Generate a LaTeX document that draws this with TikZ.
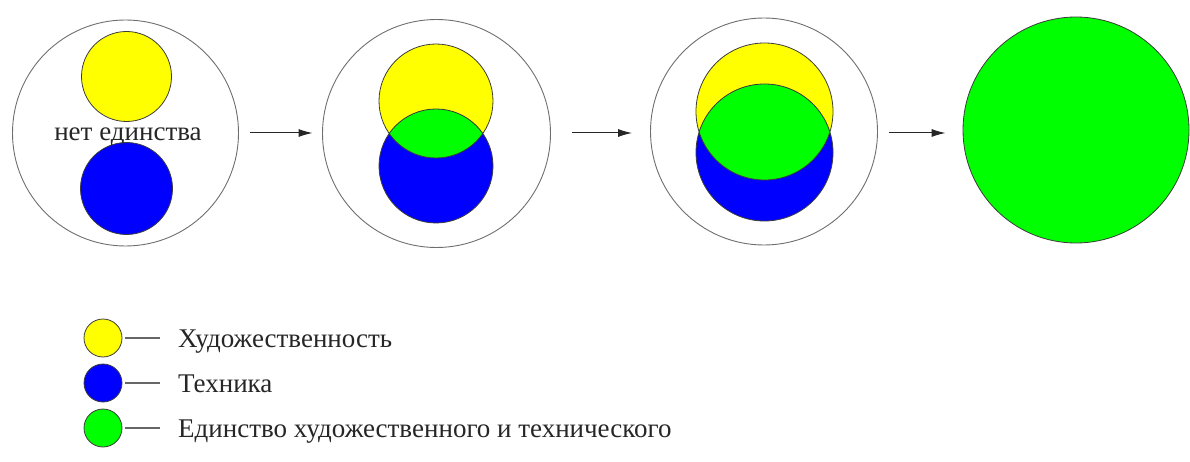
\documentclass[tikz,border=0pt]{standalone}
\usepackage{fontspec}
\setmainfont{Liberation Serif}
\usetikzlibrary{arrows.meta}
\definecolor{cy}{RGB}{255,255,0}
\definecolor{cb}{RGB}{0,0,255}
\definecolor{cg}{RGB}{0,255,0}
\definecolor{edge}{RGB}{60,60,60}
\definecolor{ring}{RGB}{110,110,110}
\begin{document}
\begin{tikzpicture}[x=1pt,y=-1pt,
  outer/.style={circle,draw=ring,line width=0.9pt,inner sep=0pt},
  disc/.style={circle,draw=edge,line width=0.8pt,inner sep=0pt},
  edgeline/.style={draw=edge,line width=0.8pt},
  arr/.style={-{Latex[length=14pt,width=8pt]},line width=1pt,draw=black!85,fill=black!85},
  legline/.style={line width=1.2pt,draw=black!60},
  txt/.style={inner sep=0pt,font=\fontsize{27}{32}\selectfont,text=black!85},
  lbl/.style={txt,anchor=base west}]
\useasboundingbox (0,0) rectangle (1190,462);
% ---------- stage 1
\node[outer,minimum size=226pt] (o1) at (125.5,133) {};
\node[disc,fill=cy,minimum size=90pt] (y1) at (126.5,76.5) {};
\node[disc,fill=cb,minimum size=92pt] (b1) at (126.5,188.5) {};
\node[txt,anchor=base] (t1) at (128,141) {нет единства};
% ---------- stage 2
\node[outer,minimum size=228pt] (o2) at (436.5,133.5) {};
\coordinate (y2) at (436,101);
\coordinate (b2) at (436,166);
\fill[cy] (y2) circle (57);
\fill[cb] (b2) circle (57);
\begin{scope}
  \clip (y2) circle (57);
  \fill[cg] (b2) circle (57);
\end{scope}
\draw[edgeline] (y2) circle (57) (b2) circle (57);
% ---------- stage 3
\node[outer,minimum size=227pt] (o3) at (764,131.5) {};
\coordinate (y3) at (764.5,111.5);
\coordinate (b3) at (764.5,152.5);
\fill[cy] (y3) circle (68.5);
\fill[cb] (b3) circle (68.5);
\begin{scope}
  \clip (y3) circle (68.5);
  \fill[cg] (b3) circle (68.5);
\end{scope}
\draw[edgeline] (y3) circle (68.5) (b3) circle (68.5);
% ---------- stage 4
\node[disc,fill=cg,minimum size=226pt] (g4) at (1076,130) {};
% ---------- arrows
\coordinate (a1) at (0,133);
\draw[arr,shorten <=11.5pt,shorten >=9.5pt] (o1.east |- a1) -- (o2.west |- a1);
\draw[arr,shorten <=21.5pt,shorten >=18pt] (o2.east |- a1) -- (o3.west |- a1);
\draw[arr,shorten <=11pt,shorten >=17pt] (o3.east |- a1) -- (g4.west |- a1);
% ---------- legend
\node[disc,fill=cy,minimum size=38pt] (ly) at (103,338) {};
\node[disc,fill=cb,minimum size=38pt] (lb) at (103,383) {};
\node[disc,fill=cg,minimum size=38pt] (lgn) at (103,428) {};
\node[lbl] (ty) at (178,347) {Художественность};
\node[lbl] (tb) at (178,392) {Техника};
\node[lbl] (tg) at (178,437) {Единство художественного и технического};
\draw[legline,shorten <=3pt,shorten >=18pt] (ly.east) -- (ly.east -| ty.west);
\draw[legline,shorten <=3pt,shorten >=18pt] (lb.east) -- (lb.east -| tb.west);
\draw[legline,shorten <=3pt,shorten >=18pt] (lgn.east) -- (lgn.east -| tg.west);
\end{tikzpicture}
\end{document}
